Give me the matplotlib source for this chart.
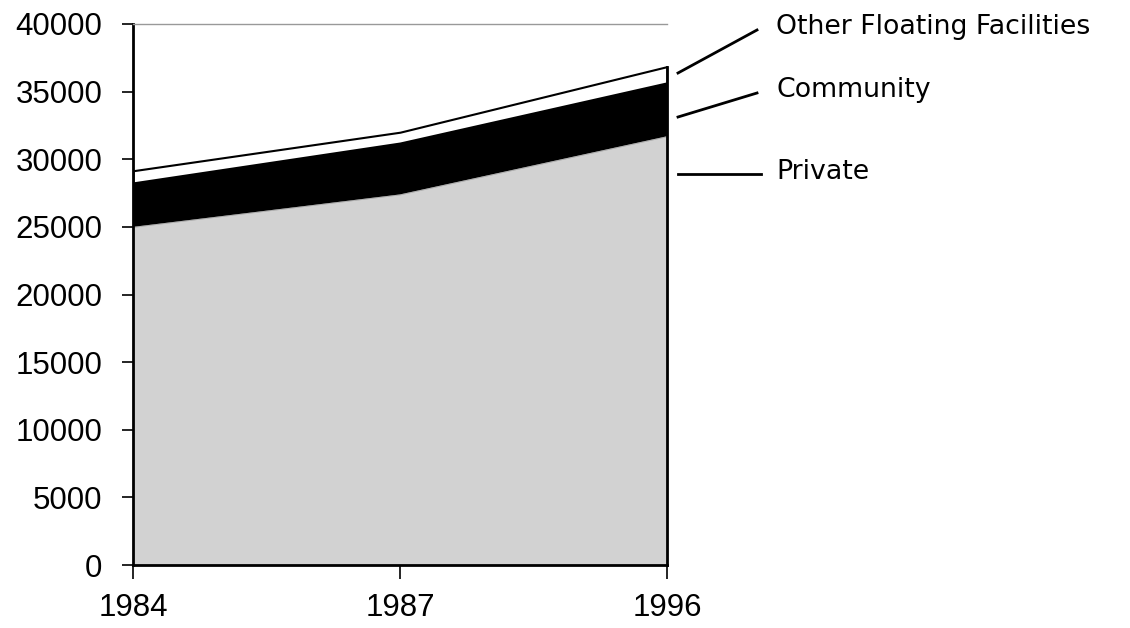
import matplotlib.pyplot as plt

plt.rcParams['font.family'] = ['Liberation Sans', 'DejaVu Sans']

# Data
years = ["1984", "1987", "1996"]
private = [25000, 27400, 31700]
community = [3250, 3800, 3950]
other = [900, 800, 1200]

labels = ["Private", "Community", "Other Floating Facilities"]
colors = ["#d2d2d2", "black", "white"]

fig = plt.figure(figsize=(11.3, 6.28), dpi=100)
ax = fig.add_axes([0.1177, 0.1003, 0.4726, 0.8615])

x = list(range(len(years)))
polys = ax.stackplot(x, private, community, other, colors=colors, labels=labels)
polys[2].set_edgecolor("black")
polys[2].set_linewidth(1.5)
polys[0].set_edgecolor("#9a9a9a")
polys[0].set_linewidth(0.5)

# right edge of the area
tot = [p + c + o for p, c, o in zip(private, community, other)]
ax.plot([x[-1], x[-1]], [0, tot[-1]], color="black", lw=2, clip_on=False)

ax.set_xlim(0, 2)
ax.set_ylim(0, 40000)
ax.set_yticks(range(0, 40001, 5000))
ax.set_xticks(x)
ax.set_xticklabels(years)
ax.tick_params(axis="y", direction="out", length=8, width=1.2, labelsize=22.5, pad=14)
ax.tick_params(axis="x", direction="out", length=10, width=1.2, labelsize=22.5, pad=10)

ax.spines["right"].set_visible(False)
ax.spines["top"].set_color("#999999")
ax.spines["top"].set_linewidth(1)
ax.spines["left"].set_linewidth(2)
ax.spines["bottom"].set_linewidth(2)

# leader labels on the right
def fig_xy(px, py):
    return px / 1130, 1 - py / 628

leaders = [
    ("Other Floating Facilities", (678, 73), (757, 30), (776, 27)),
    ("Community", (678, 117), (757, 93), (776, 90)),
    ("Private", (678, 174), (761, 174), (776, 172)),
]
for text, p0, p1, tp in leaders:
    a = fig_xy(*p0)
    b = fig_xy(*p1)
    fig.add_artist(plt.Line2D([a[0], b[0]], [a[1], b[1]], color="black", lw=2))
    tx, ty = fig_xy(*tp)
    fig.text(tx, ty, text, fontsize=19.3, va="center", ha="left", family="DejaVu Sans")

fig.savefig("out.png", dpi=100)
